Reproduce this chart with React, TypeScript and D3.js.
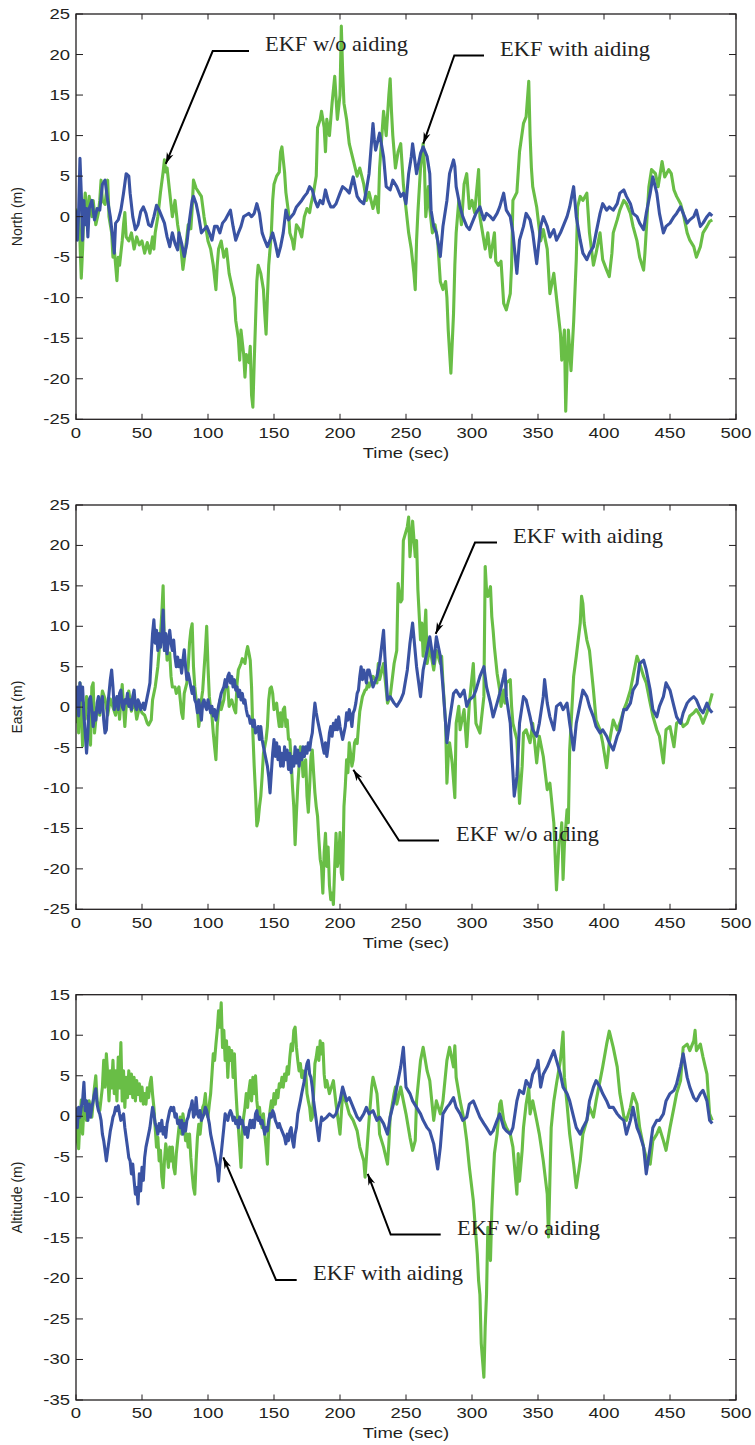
import React from "react";
import * as d3 from "d3";

type Pt = [number, number];

// ---------- Data (time sec, error m) ----------
const northNoAid: Pt[] = [[0,1],[1,-1],[2,0.5],[3,-3],[4,-7.6],[5,-4],[6,1],[7,2.9],[8,1],[9,-1],[10,2.5],[12,0],[13,2],[15,-1],[17,0.5],[18,2],[19,4.5],[20,2],[22,1.5],[24,4.5],[25,0],[27,-2],[28,-5],[29,-4],[31,-7.9],[32,-5],[33,-6],[35,-3],[36,-1],[37,0.5],[38,-2.5],[40,-3],[42,-2],[44,-4],[46,-2.5],[48,-3.5],[50,-3],[52,-4.5],[54,-3.2],[56,-4.5],[58,-2.5],[59,-4],[60,-2],[62,0],[64,3],[66,5.5],[67,7],[68,5.5],[69,6],[71,3],[73,0],[75,2],[77,-1],[79,-3],[81,-6.5],[83,-4],[85,-1],[87,-1.5],[88,1],[89,4.5],[91,3.5],[93,3],[95,2.5],[97,0],[99,-2],[100,-3],[102,-4],[104,-6],[106,-9],[107,-6],[108,-4],[110,-3],[112,-5],[114,-4],[116,-7],[118,-8.5],[120,-10],[121,-12.8],[123,-15],[124,-17.7],[125,-14],[127,-17],[128,-19.8],[129,-17],[131,-18],[132,-16],[133,-22],[134,-23.5],[135,-18],[136,-13],[137,-8],[138,-6],[140,-7],[142,-9],[143,-12],[144,-14.5],[145,-10],[146,-6],[148,-2],[149,2],[150,4],[152,5],[154,5.5],[155,8],[156,8.6],[158,5.5],[159,3],[161,0.5],[162,-2],[164,-3],[165,-4],[167,-1],[169,-1.5],[171,-2.5],[173,0],[175,1],[177,0.5],[178,1.5],[180,3],[182,5],[183,11],[185,12],[186,13],[188,11],[189,8],[190,12],[192,10],[194,14],[196,17.3],[198,12],[200,15],[201,23.5],[202,18],[203,14],[205,12],[207,9],[210,7],[213,5],[215,6],[218,4],[220,2],[222,3],[225,1],[227,2.5],[229,0.5],[230,6],[233,13],[235,10],[237,15],[238,17],[239,13],[240,10],[242,6],[244,8],[246,9],[248,4],[250,1],[252,-2],[254,-4],[256,-7],[257,-9],[258,-3],[259,0.5],[261,6],[263,9],[264,6],[265,0],[267,3.7],[268,1],[270,-2],[272,-1],[274,-3],[276,-8],[278,-9],[280,-8],[281,-10],[282,-14],[284,-19.3],[286,-12],[287,-6],[288,-2],[290,2],[292,-1],[294,4],[296,5.3],[298,1],[300,2],[302,0.5],[305,5.8],[306,0],[308,-2],[310,-4],[312,-2],[314,-5],[316,-3],[317,-2],[318,-5.5],[320,-6],[322,-5.5],[324,-10.7],[326,-11.5],[329,-9.5],[330,-6],[331,2],[334,3],[336,8],[339,11.5],[341,12.3],[343,16.7],[344,10],[345,6],[346,3.7],[349,1.2],[352,-3],[354,-1.6],[357,-4],[359,-9.5],[362,-7],[364,-10],[367,-14.4],[368,-17.7],[370,-14],[371,-24],[372,-18.5],[373,-14],[375,-19],[377,-13],[379,-5.3],[380,1.2],[382,2.5],[384,2],[387,2.9],[389,-2],[392,-6],[394,-4.5],[397,-2],[399,-5.3],[402,-6.6],[404,-7.4],[406,-4.5],[407,-2],[410,-0.4],[412,0.8],[415,2],[417,1.6],[420,0.4],[422,-1.2],[425,-3],[427,-5],[430,-6.6],[431,-4.5],[434,3.7],[436,5.8],[439,5.3],[441,3.7],[444,6.8],[446,4.9],[449,5.8],[451,5.3],[453,3.3],[455,2.5],[458,1.6],[460,0.4],[463,-2],[465,-2.9],[468,-3.7],[470,-5],[473,-3.7],[475,-2],[478,-1.2],[480,-0.6],[482,-0.4]];

const northAid: Pt[] = [[0,0.8],[1,-2.9],[2,0.5],[3,7.2],[4,2.9],[5,-2.9],[6,2],[7,-1],[8,1],[9,-2.5],[10,1],[12,2],[14,-0.4],[16,1],[18,0.8],[20,4],[22,4.5],[24,2],[26,0],[28,-2.9],[29,-4.5],[30,-0.8],[32,-0.4],[34,0.8],[36,2.9],[38,5.3],[40,5],[41,2.9],[43,0],[45,-1.6],[47,-1],[49,0.6],[51,1.2],[53,0.4],[55,-1],[57,-1.2],[59,0],[61,1.4],[63,0.8],[65,0],[67,-0.8],[69,-2.5],[71,-3.7],[73,-2],[75,-3.3],[77,-4.1],[78,-2],[80,-3.3],[82,-4.9],[84,-3.3],[86,-0.4],[88,2],[89,2.5],[91,1.6],[93,0],[95,-2],[97,-1.6],[99,-1.2],[101,-2],[103,-2.9],[105,-1.2],[107,-1.2],[109,-2],[111,-0.8],[113,-0.4],[115,0.2],[117,0.8],[119,-1.2],[121,-2.9],[123,-2],[125,-1.2],[127,0],[129,0.2],[131,0.4],[133,0],[135,0.4],[137,1.6],[139,0.4],[141,-2],[143,-2.9],[145,-3.7],[147,-2.9],[149,-2],[151,-3.3],[153,-4.9],[155,-3.7],[157,-2],[159,0.8],[161,-0.4],[163,0],[165,0.4],[167,1.2],[169,1.6],[171,2],[173,2.5],[175,2.9],[177,3.7],[179,3.3],[181,2],[183,1.2],[185,2],[187,1.6],[189,3.3],[191,2],[193,1.2],[195,1.2],[197,1.6],[200,2.9],[202,3.7],[205,3.3],[207,2.9],[210,4.9],[213,2.5],[215,2],[218,1.6],[220,3.3],[222,5.3],[225,11.5],[226,9.5],[227,8.2],[230,10.3],[233,7.4],[235,3.7],[238,3.3],[240,4.5],[243,3.7],[246,2.5],[248,2.9],[250,1.6],[252,5.3],[254,7.4],[255,9],[258,5.3],[261,7.8],[263,8.6],[266,7.4],[268,5.3],[269,0.8],[271,-1.2],[273,-2],[276,-4.9],[278,-1.2],[281,2],[283,5.3],[286,7],[287,6.2],[288,3.7],[291,1.2],[293,0],[296,-1.2],[298,-1.6],[301,-0.4],[303,0.4],[306,1.2],[309,-0.4],[311,0.4],[314,0],[316,-0.4],[319,0.4],[321,1.2],[324,2.9],[326,0.8],[329,0],[331,-2],[334,-7],[336,-2.9],[339,-1.2],[341,0.4],[344,-0.4],[346,-2],[349,-5.8],[352,-1.2],[354,0],[357,-1.2],[359,-2.5],[362,-1.6],[364,-2.9],[367,-2],[369,-1.2],[372,0],[374,1.2],[377,3.7],[379,0],[382,-2.9],[384,-4.5],[387,-5.3],[389,-4.5],[392,-3.7],[394,-2],[397,0.4],[399,1.6],[402,0.8],[404,1.2],[407,0.8],[410,1.6],[412,2.9],[415,3.3],[417,2.5],[420,1.6],[422,0.4],[425,0],[427,-0.8],[430,-1.6],[432,0.4],[435,2.9],[437,4.9],[440,2.9],[442,0.4],[445,-2],[447,-1.2],[450,-0.8],[453,0],[455,0.4],[458,1.2],[460,0.4],[463,-0.8],[465,-0.4],[468,0],[470,0.8],[473,-1.2],[475,-0.8],[478,0],[480,0.4],[482,0.1]];

const eastNoAid: Pt[] = [[0,-2],[1,0.9],[2,-3.2],[3,3],[4,-0.3],[5,-4.8],[6,0.5],[7,-1.5],[8,1.3],[10,-0.3],[11,-4.7],[12,2.5],[13,3],[14,-3.2],[16,0],[18,-1],[20,2],[22,1],[24,-1],[26,1],[28,0],[30,-1],[32,1],[33,-1.5],[35,2.8],[36,0],[37,-2.4],[38,0],[40,2],[42,-0.5],[44,1],[46,-1.5],[48,0],[50,-0.7],[52,-1],[54,-2],[55,-2.2],[57,-1.6],[58,0.9],[60,2.5],[62,5],[63,7],[64,9],[65,11.6],[66,15],[67,7],[68,9],[69,5.8],[71,6.7],[72,3.8],[73,2.5],[75,2.5],[76,1.7],[78,2.5],[79,0.9],[80,-0.7],[81,-1.4],[82,1.7],[84,3],[85,5],[86,7.9],[87,9.5],[88,10.3],[89,5],[90,2.5],[91,0.9],[92,-0.3],[93,-2.4],[94,-1.1],[95,0.9],[96,2.1],[97,4.6],[98,7],[99,10],[100,5],[101,1.3],[102,-0.3],[103,-1.1],[104,-3.2],[105,-4.9],[106,-6.5],[107,-2.4],[108,-0.3],[109,0.9],[110,-0.3],[112,0.9],[113,2.5],[115,2.5],[116,0.1],[118,0.9],[120,-0.3],[121,-0.7],[122,2.9],[123,4.6],[124,5],[125,5.4],[126,6],[127,5.8],[128,5.4],[129,6.7],[130,7.5],[131,6.7],[132,5.8],[133,2.5],[134,-3.2],[135,-7.3],[136,-10.6],[137,-14.7],[138,-14],[139,-12.3],[140,-11],[141,-8.6],[142,-5.7],[143,-4.9],[144,-4],[145,-2.4],[146,0.9],[147,2.3],[148,2.5],[149,1.7],[150,-0.3],[151,0.1],[152,0.5],[153,-1.1],[154,-2.4],[155,-0.7],[156,-2.4],[157,-0.3],[158,0],[159,-2.4],[160,-1.6],[161,-4],[162,-4],[163,-6.5],[164,-9.8],[165,-12.3],[166,-17],[167,-13.1],[168,-9.8],[169,-7.3],[170,-4.9],[171,-5.8],[172,-8.6],[173,-7.3],[174,-6.5],[175,-11],[176,-13],[177,-9.8],[178,-6.1],[179,-5.3],[180,-8.1],[181,-10.6],[182,-12.3],[183,-13.5],[184,-16.4],[185,-18.8],[186,-19.7],[187,-23],[188,-18],[189,-15.6],[190,-19.7],[191,-17.3],[192,-22],[193,-23.8],[194,-23],[195,-24.4],[196,-19.7],[197,-15.6],[198,-19.7],[199,-18.8],[200,-15.5],[201,-20.5],[202,-21.3],[203,-12.3],[204,-9.8],[205,-6.5],[206,-8.1],[207,-4.4],[208,-5.7],[209,-7.3],[210,-6.5],[211,-4.4],[212,-4],[213,-4.5],[214,-2.4],[215,-0.5],[217,1.3],[219,2.1],[220,2.2],[221,3],[222,2.5],[225,3.8],[228,3],[229,5.4],[230,3.4],[233,5.4],[236,0.5],[238,1.3],[241,5.4],[243,7],[244,15.3],[246,13],[247,13.3],[248,20.6],[251,22.3],[252,23.5],[253,18.6],[254,20.7],[255,23],[257,18.6],[258,20.6],[259,14.5],[261,8.3],[262,10.4],[263,6.3],[265,12],[266,5.4],[268,7.4],[271,4.6],[273,7],[276,5.4],[277,6.3],[278,3],[280,-2],[281,-9.4],[282,-6.1],[283,-4.4],[285,-6.9],[287,-11.2],[288,-2],[290,0.1],[291,-2.8],[294,-0.3],[296,-4.9],[298,0.5],[301,5.4],[302,1.3],[303,-2],[306,-3.2],[309,1.3],[310,17.4],[311,14.5],[312,13.7],[314,14.9],[315,11.2],[316,9.5],[317,7.4],[319,4.2],[321,2.1],[322,0.1],[324,2.1],[325,0.5],[326,3],[329,3.4],[330,0.1],[331,-2],[334,-4],[336,-11.9],[338,-7.3],[339,-3.2],[341,-2.8],[344,-4.4],[346,-2],[349,-6.9],[351,-3.6],[354,-6.1],[357,-10.2],[359,-9.4],[362,-14.3],[363,-18.4],[364,-22.6],[366,-16.5],[367,-16.3],[368,-14.3],[369,-21.3],[370,-17],[372,-12.7],[373,-14.3],[374,-5.3],[377,3.8],[379,6.3],[382,10.4],[383,13.7],[384,12.8],[385,10.4],[387,8.3],[389,7],[392,2.1],[394,-1.6],[397,-2.8],[399,-4.4],[402,-7.5],[404,-4.4],[407,-1.6],[410,-2.8],[412,-2],[415,-0.3],[417,0.5],[420,2.1],[422,3.8],[425,6.3],[427,5.4],[430,3.8],[432,3],[435,0.5],[437,-1.1],[440,-2.8],[442,-3.6],[445,-6.9],[447,-2.8],[450,-2.4],[453,-4.9],[455,-2],[458,-1.6],[460,-2.4],[463,-2],[465,-1.1],[468,-0.7],[470,-0.3],[473,-1.1],[475,-2],[478,-0.7],[480,0.5],[482,1.7]];

const eastAid: Pt[] = [[0,-0.3],[1,2.5],[2,-1.1],[3,3],[4,0.9],[5,2.5],[6,-1.1],[7,-3.2],[8,-5.7],[9,-3.2],[10,0.9],[11,1.3],[12,-0.3],[13,-2.4],[14,-0.7],[15,-1.6],[16,0.5],[17,1.3],[18,-0.7],[19,0.5],[20,1.3],[21,-1.6],[22,-3.2],[23,-2.8],[24,0.1],[25,1.7],[26,3.4],[27,4.6],[28,2.5],[29,-0.3],[30,0.5],[31,1.3],[32,-0.3],[33,1.7],[34,2.1],[35,0.1],[36,-0.3],[37,0.9],[38,0.5],[39,1.7],[40,0.1],[41,0.9],[42,-0.3],[43,1.3],[44,2.1],[45,0.1],[46,-0.3],[47,0.9],[48,0.5],[49,-0.3],[50,0.1],[51,0.5],[52,-0.3],[53,0.5],[54,1.3],[55,2.1],[56,3],[57,6.3],[58,9.1],[59,10.8],[60,7.9],[61,9.5],[62,7],[63,9.1],[64,7.4],[65,8.7],[66,12],[67,7],[68,9.1],[69,6.6],[70,8.2],[71,9.5],[72,7.9],[73,7],[74,8.3],[75,6.2],[76,5],[77,6.2],[78,5],[79,5.8],[80,4.2],[81,5.8],[82,7.1],[83,5],[84,3.4],[85,4.2],[86,3.4],[87,2.5],[88,1.7],[89,2.5],[90,0.9],[91,0.5],[92,-0.7],[93,0.9],[94,-0.3],[95,-1.6],[96,0.5],[97,0.9],[98,0.1],[99,-0.3],[100,0.9],[101,0.1],[102,-0.7],[103,0.1],[104,-1.1],[105,-0.3],[106,-1.6],[107,-0.7],[108,0.1],[109,0.9],[110,1.7],[111,2.1],[112,2.5],[113,3.4],[114,2.5],[115,3.8],[116,4.2],[117,3],[118,3.8],[119,2.5],[120,3.4],[121,2.1],[122,2.5],[123,1.3],[124,2.1],[125,0.9],[126,1.7],[127,0.5],[128,0.9],[129,-0.3],[130,-1.1],[131,-1.1],[132,-2],[133,-1.6],[134,-2.4],[135,-1.6],[136,-3.2],[137,-2.8],[138,-2.4],[139,-4],[140,-2.4],[141,-4],[142,-4.9],[143,-5.7],[144,-6.5],[145,-7.3],[146,-8.6],[147,-10.6],[148,-8.1],[149,-5.7],[150,-4],[151,-6.1],[152,-4.4],[153,-6.5],[154,-4.9],[155,-7.3],[156,-5.7],[157,-7.3],[158,-4.9],[159,-6.5],[160,-5.3],[161,-7.7],[162,-5.7],[163,-8.1],[164,-6.1],[165,-7.3],[166,-4.9],[167,-6.9],[168,-5.3],[169,-7.3],[170,-5.7],[171,-6.5],[172,-4.9],[173,-6.1],[174,-4.9],[175,-5.7],[176,-4.4],[177,-5.3],[178,-4],[179,-3.2],[180,-1.2],[181,0.5],[182,-0.7],[183,-1.6],[184,-2.4],[185,-3.2],[186,-4],[187,-4.9],[188,-5.7],[189,-4.4],[190,-6.1],[191,-4.9],[192,-3.2],[193,-2.4],[194,-3.6],[195,-2],[196,-2.8],[197,-1.6],[198,-2.8],[199,-1.2],[200,-2.4],[201,-3.2],[202,-4],[203,-3.2],[204,-2.4],[205,-0.7],[206,-1.6],[207,-0.3],[208,-1.1],[209,-2.4],[210,-0.7],[211,-0.3],[212,0.5],[213,1.7],[214,2.1],[215,3.8],[216,5],[217,3.4],[218,4.6],[219,3.8],[220,3],[221,4.6],[222,4.6],[225,2.5],[228,3.8],[230,5.4],[233,9.5],[234,6.3],[236,0.9],[238,1.3],[241,0.5],[243,0.1],[246,0.9],[248,1.7],[251,4.6],[253,7.9],[255,10.4],[258,5],[261,1.3],[263,4.6],[266,7],[268,8.7],[271,5.4],[273,8.7],[276,6.3],[278,2.5],[280,-2],[281,-4.4],[283,-1.6],[286,1.7],[288,2.1],[291,1.3],[294,2.1],[296,0.1],[298,0.9],[301,1.3],[303,2.1],[306,3.8],[309,5],[311,2.5],[314,0.5],[316,-1.2],[319,0.5],[321,1.7],[324,3.8],[325,4.6],[326,1.3],[329,-2],[330,-5.3],[331,-8.1],[332,-11],[334,-8.6],[335,-5.6],[336,-2],[339,1.3],[341,0.9],[344,-1.2],[346,-2.8],[349,-3.6],[351,-2],[354,1.3],[355,3.4],[357,0.5],[359,-1.2],[362,-2.8],[364,0.1],[367,0.5],[369,-0.3],[372,0.5],[374,-2],[377,-5.3],[379,-2],[382,0.5],[384,2.1],[387,1.3],[389,0.1],[392,-1.2],[394,-2.4],[397,-3.2],[399,-2.8],[402,-3.6],[404,-4.4],[407,-5.3],[410,-3.6],[412,-2.8],[415,-0.3],[417,-0.3],[420,0.5],[422,2.1],[425,2.9],[427,5.4],[430,5.8],[432,4.6],[435,2.1],[437,-0.3],[440,-1.2],[442,0.1],[445,1.3],[447,3],[450,2.1],[453,0.1],[455,-1.2],[458,-2],[460,-0.7],[463,0.5],[465,0.9],[468,1.3],[470,0.9],[473,-0.3],[475,-0.7],[478,0.5],[480,-0.3],[482,-0.7]];

const altNoAid: Pt[] = [[0,-0.5],[1,-3],[2,-4],[3,-0.5],[4,2],[5,-2.2],[6,1.1],[8,-0.5],[10,1.9],[12,-0.1],[14,3.6],[15,5],[16,1.9],[18,0.7],[20,3.6],[21,6.9],[22,3.6],[23,7.7],[24,5.2],[25,1.9],[26,5.6],[27,3.5],[28,6.9],[29,2.8],[30,5.6],[31,1.9],[32,7.3],[33,3.5],[34,9.1],[35,1.9],[36,5.6],[37,1.1],[38,4.8],[39,2.3],[40,5.6],[41,2.8],[42,5.2],[43,2.3],[44,4.8],[45,1.9],[46,4.4],[47,2.7],[48,4],[49,1.9],[50,3.6],[51,1.5],[52,2.8],[53,1.5],[54,3.5],[55,2.3],[56,4],[57,4.8],[58,2.7],[59,1.1],[60,-1.4],[61,-3.8],[62,-2.6],[63,-5.5],[64,-4.2],[65,-7.5],[66,-8.8],[67,-5.5],[68,-3.4],[69,-4.6],[70,-6.3],[71,-3.8],[72,-5.5],[73,-3.8],[74,-6.3],[75,-7.1],[76,-4.6],[77,-3],[78,-1.4],[79,-0.1],[80,-2.2],[81,0.3],[82,-0.9],[83,-3],[84,-2.2],[85,-3.8],[86,-2.2],[87,-5.1],[88,-7.1],[89,-8.8],[90,-9.6],[91,-5.5],[92,-2.6],[93,-1],[94,-2.2],[95,-0.5],[96,1.1],[97,1.5],[98,2.8],[99,0.3],[100,-0.1],[101,1.5],[102,2.8],[103,5.2],[104,7.7],[105,6.9],[106,8.9],[107,10.6],[108,13],[109,11],[110,14],[111,8.5],[112,10.6],[113,6.9],[114,9.3],[115,4.8],[116,8.5],[117,6.9],[118,8.1],[119,4.8],[120,7.7],[121,3.6],[122,0.7],[123,-1.4],[124,-3.8],[125,-6.3],[126,-1.4],[127,-0.1],[128,1.1],[129,2.8],[130,1.1],[131,3.2],[132,4.4],[133,1.9],[134,4.8],[135,2.8],[136,5],[137,1.9],[138,0.3],[139,1.1],[140,-0.5],[141,-1.4],[142,0.3],[143,-2.2],[144,-3.8],[145,-5.9],[146,-1.4],[147,0.7],[148,1.9],[149,1.1],[150,2.8],[151,1.5],[152,3.2],[153,2.3],[154,4],[155,3.6],[156,4.8],[157,3.6],[158,5.2],[159,4.4],[160,6.1],[161,5.2],[162,7.3],[163,8.9],[164,8.1],[165,10.6],[166,11],[167,8.5],[168,6.9],[169,5.6],[170,6.5],[171,4.8],[172,5.6],[173,4.4],[174,5.6],[175,2.8],[176,1.9],[177,1.1],[178,-0.5],[179,-0.1],[180,2.8],[181,6.5],[182,7.3],[183,8.5],[184,6.9],[185,9.3],[186,7.7],[187,9],[188,5.2],[189,3.6],[190,4.4],[192,2.8],[195,4.4],[197,1.5],[200,-2.2],[202,2.8],[205,1.5],[207,0.3],[210,-0.5],[213,-1.8],[215,-3.8],[218,-5.5],[219,-7.5],[220,-5.1],[222,-0.5],[224,3.6],[225,4.8],[228,2.8],[229,0.7],[230,-2.2],[233,-3.8],[236,-5.9],[237,-3.4],[238,-0.1],[241,2.8],[242,3.6],[243,1.5],[246,3.6],[248,1.9],[250,0.3],[253,-2.6],[255,-4.2],[257,-3],[258,1.9],[261,6.9],[263,8.5],[266,5.6],[268,4.4],[271,-0.5],[273,1.9],[276,0.3],[278,1.9],[281,6.9],[283,8.5],[286,6.1],[287,8.7],[288,4.8],[291,1.9],[294,-0.5],[296,-3],[298,-6.3],[301,-10.4],[304,-17],[305,-20.3],[306,-22],[307,-28],[309,-32.2],[310,-26],[311,-22],[312,-13.7],[314,-17.8],[315,-11.7],[316,-7.9],[317,-4.6],[319,-2.2],[321,1.5],[322,1.9],[324,-0.5],[326,-1.4],[329,-2.2],[331,-3.8],[334,-9.6],[335,-4.6],[336,-8],[338,-4.2],[339,-1.4],[341,1.5],[343,3.5],[344,0.3],[346,1.9],[349,-0.5],[351,-2.2],[354,-5.5],[357,-9.6],[358,-14.9],[359,-7.9],[360,-1.4],[362,1.9],[364,4],[367,6.9],[369,10.4],[370,4.8],[372,1.5],[374,-2.2],[377,-5.9],[379,-8.8],[382,-5.5],[384,-2.2],[387,-0.5],[389,1.1],[392,-0.1],[394,1.9],[397,4.4],[399,6.1],[402,8.9],[404,10.5],[407,8.5],[410,6.1],[412,2.8],[415,0],[417,-0.5],[420,1.1],[422,2.8],[425,1.5],[427,-1.4],[430,-3.8],[432,-5.1],[435,-5.9],[437,-3],[440,-2.2],[442,-1.4],[445,-3],[447,-4.2],[450,-1.4],[453,1.1],[455,2.8],[458,4.4],[460,8.5],[463,8.9],[465,8.1],[468,9.3],[469,10.6],[470,8.1],[473,8.9],[475,7.3],[478,5.2],[479,2.7],[480,0.3],[482,-0.5]];

const altAid: Pt[] = [[0,1.1],[1,-1.4],[2,1.1],[3,-0.1],[4,1.1],[5,1.9],[6,4.2],[7,0.7],[8,1.9],[9,-0.5],[10,1.5],[11,-0.1],[12,1.1],[13,1.9],[14,2.8],[15,3.4],[16,1.5],[17,0.7],[18,0.3],[19,-0.5],[20,-2.2],[21,-3],[22,-4.2],[23,-5.5],[24,-4.2],[25,-3],[26,-1.8],[27,-1],[28,-0.1],[29,0.3],[30,1.1],[31,0.7],[32,1.3],[33,0.3],[34,-0.5],[35,-0.1],[36,0.3],[37,-1.4],[38,-2.6],[39,-3.8],[40,-5.1],[41,-5.5],[42,-7.1],[43,-5.9],[44,-7.9],[45,-9.6],[46,-8.8],[47,-10.8],[48,-7.1],[49,-9.2],[50,-6.3],[51,-7.9],[52,-5.1],[53,-3.8],[54,-3],[55,-2.2],[56,-1.4],[57,-0.1],[58,1.1],[59,0.3],[60,-0.9],[61,-1.4],[62,-2.2],[63,-0.9],[64,-1.8],[65,-0.5],[66,-2.2],[67,-1.4],[68,-2.6],[69,-0.9],[70,-0.1],[71,0.7],[72,1.1],[73,0.7],[74,1.1],[75,-0.1],[76,0.3],[77,-0.9],[78,-0.5],[79,-1.4],[80,-0.5],[81,-2.2],[82,-0.9],[83,-1.8],[84,-0.5],[85,-0.1],[86,0.7],[87,1.1],[88,1.9],[89,-0.1],[90,0.3],[91,2.3],[92,0.3],[93,-0.1],[94,0.7],[95,-0.5],[96,-0.1],[97,0.3],[98,1.1],[99,0.7],[100,-0.1],[101,-0.9],[102,-2.2],[103,-3],[104,-3.8],[105,-4.6],[106,-5.5],[107,-6.3],[108,-8],[109,-5.9],[110,-4.6],[111,-3],[112,-1.4],[113,0.3],[114,-0.1],[115,-0.5],[116,0.3],[117,0.7],[118,0.3],[119,-0.5],[120,-0.1],[121,-0.9],[122,-0.5],[123,-1.4],[124,-0.1],[125,-0.9],[126,-0.5],[127,-1.4],[128,-2.2],[129,-1.4],[130,-2.6],[131,-1.4],[132,-0.5],[133,-1.4],[134,-0.5],[135,-1.4],[136,0.3],[137,0.7],[138,-0.5],[139,-0.1],[140,-0.9],[141,-0.5],[142,-1.4],[143,-2.2],[144,-1.4],[145,-1.8],[146,-0.5],[147,0.3],[148,-0.1],[149,0.7],[150,0.3],[151,-0.5],[152,-0.9],[153,-1.4],[154,-0.9],[155,-1.4],[156,-1.8],[157,-2.2],[158,-2.6],[159,-3.4],[160,-2.2],[161,-3],[162,-1.8],[163,-1.4],[164,-3],[165,-3.8],[166,-2.2],[167,-1.4],[168,0.3],[169,1.1],[170,1.9],[171,2.8],[172,3.6],[173,4.4],[174,5.6],[175,6.5],[176,6.9],[177,5.2],[178,4.8],[179,3.6],[180,1.9],[181,0.7],[182,-0.5],[183,-1.8],[184,-3],[185,-1.4],[186,-0.1],[187,-0.5],[190,-0.1],[192,0.3],[195,-0.1],[197,0.3],[200,1.9],[202,3.6],[205,1.9],[207,2.3],[210,1.1],[213,-0.1],[215,-0.5],[218,0.3],[220,1.1],[222,0.3],[225,0.7],[228,-0.5],[230,-0.1],[233,-0.9],[236,-2.2],[238,-0.1],[241,1.9],[243,3.6],[246,6.1],[248,8.5],[250,3.6],[253,2.8],[255,1.9],[258,1.1],[261,0.3],[263,-0.5],[266,-1.4],[268,-1.8],[271,-3.4],[273,-5.5],[274,-6.5],[276,-3.8],[278,0.3],[281,1.1],[283,1.5],[286,2.3],[288,1.1],[291,0.3],[293,-0.5],[296,-0.1],[298,1.5],[301,1.9],[303,1.1],[306,-0.1],[309,-0.9],[311,-1.4],[314,-2.2],[316,-1.8],[319,-0.5],[321,0.3],[324,-1.4],[326,-1.8],[329,-2.2],[331,-1.4],[334,1.9],[336,3.2],[339,2.8],[341,4.4],[344,3.6],[346,5.2],[349,6.1],[350,6.9],[352,3.6],[354,5.2],[357,6.1],[359,6.9],[362,8.1],[364,6.9],[367,5.2],[369,3.6],[372,2.8],[374,1.9],[377,-0.1],[379,-1.4],[382,-2.2],[384,-1.4],[387,-0.5],[389,1.9],[392,3.6],[394,4.4],[397,3.6],[399,2.8],[402,1.9],[404,1.1],[407,1.1],[410,0.3],[412,-0.1],[415,-0.5],[417,-2.2],[420,-0.5],[422,1.1],[425,-1.4],[427,-2.2],[430,-3.8],[432,-7.1],[435,-3.8],[437,-1.4],[440,-0.5],[442,-0.5],[445,0.3],[447,1.9],[450,2.8],[453,3.2],[455,4],[458,6.1],[460,7.7],[463,4.8],[465,3.6],[468,2.3],[470,1.9],[473,2.8],[475,3.2],[478,1.9],[480,-0.5],[482,-0.9]];

const timeTicks = [0, 50, 100, 150, 200, 250, 300, 350, 400, 450, 500];
const neTicks = [-25, -20, -15, -10, -5, 0, 5, 10, 15, 20, 25];
const altTicks = [-35, -30, -25, -20, -15, -10, -5, 0, 5, 10, 15];
const labelNoAid = "EKF w/o aiding";
const labelAid = "EKF with aiding";

// ---------- Layout / style ----------
const GREEN = "#69be46";
const BLUE = "#3a53a3";
const AXIS = "#231f20";
const SANS = "'Liberation Sans', Arial, Helvetica, sans-serif";
const SERIF = "'Liberation Serif', 'Times New Roman', serif";
const SX = 1.32; // horizontal stretch of axis text
const LW = 3.1;

type Note = { text: string; tx: number; ty: number; w: number; elbowX: number; startX: number; tip: [number, number] };
type Panel = {
  top: number; bottom: number; domain: [number, number]; ticks: number[]; ylabel: string;
  green: Pt[]; blue: Pt[]; notes: Note[];
};

const panels: Panel[] = [
  {
    top: 14, bottom: 419.3, domain: [-25, 25], ticks: neTicks, ylabel: "North (m)",
    green: northNoAid, blue: northAid,
    notes: [
      { text: labelNoAid, tx: 265, ty: 51, w: 143, startX: 249, elbowX: 212.7, tip: [68, 6.5] },
      { text: labelAid, tx: 500, ty: 55.5, w: 150, startX: 484, elbowX: 454.3, tip: [263.1, 9] },
    ],
  },
  {
    top: 505, bottom: 909.3, domain: [-25, 25], ticks: neTicks, ylabel: "East (m)",
    green: eastNoAid, blue: eastAid,
    notes: [
      { text: labelAid, tx: 513, ty: 542.5, w: 150, startX: 497, elbowX: 475, tip: [272.5, 9.05] },
      { text: labelNoAid, tx: 456, ty: 840.5, w: 143, startX: 439, elbowX: 399, tip: [210.1, -7.74] },
    ],
  },
  {
    top: 994.7, bottom: 1400, domain: [-35, 15], ticks: altTicks, ylabel: "Altitude (m)",
    green: altNoAid, blue: altAid,
    notes: [
      { text: labelAid, tx: 313, ty: 1280, w: 150, startX: 296.7, elbowX: 276, tip: [111.6, -5.06] },
      { text: labelNoAid, tx: 457, ty: 1234.5, w: 143, startX: 440.7, elbowX: 390.7, tip: [221, -7.1] },
    ],
  },
];

const x = d3.scaleLinear().domain([0, 500]).range([76, 736]);

function Arrow({ sx, sy, tx, ty }: { sx: number; sy: number; tx: number; ty: number }) {
  const ang = Math.atan2(ty - sy, tx - sx);
  const L = 12, half = 0.3, back = 8;
  const p1 = [tx - L * Math.cos(ang - half), ty - L * Math.sin(ang - half)];
  const p2 = [tx - L * Math.cos(ang + half), ty - L * Math.sin(ang + half)];
  const pb = [tx - back * Math.cos(ang), ty - back * Math.sin(ang)];
  return (
    <path d={`M${tx},${ty}L${p1[0]},${p1[1]}L${pb[0]},${pb[1]}L${p2[0]},${p2[1]}Z`} fill="#000" />
  );
}

function PanelView({ p, idx }: { p: Panel; idx: number }) {
  const y = d3.scaleLinear().domain(p.domain).range([p.bottom, p.top]);
  const line = d3.line<Pt>().x((d) => x(d[0])).y((d) => y(d[1]));
  const L = x(0), R = x(500);
  const clipId = `clip${idx}`;
  const midY = (p.top + p.bottom) / 2;
  return (
    <g>
      <defs>
        <clipPath id={clipId}>
          <rect x={L} y={p.top} width={R - L} height={p.bottom - p.top} />
        </clipPath>
      </defs>
      <g clipPath={`url(#${clipId})`}>
        <path d={line(p.green) || ""} fill="none" stroke={GREEN} strokeWidth={LW} strokeLinejoin="round" />
        <path d={line(p.blue) || ""} fill="none" stroke={BLUE} strokeWidth={LW} strokeLinejoin="round" />
      </g>
      {/* box */}
      <rect x={L} y={p.top} width={R - L} height={p.bottom - p.top} fill="none" stroke={AXIS} strokeWidth={1.3} />
      {/* x ticks */}
      {timeTicks.map((t) => (
        <g key={`xt${t}`}>
          <line x1={x(t)} x2={x(t)} y1={p.bottom} y2={p.bottom - 5.5} stroke={AXIS} strokeWidth={1} />
          <line x1={x(t)} x2={x(t)} y1={p.top} y2={p.top + 5.5} stroke={AXIS} strokeWidth={1} />
          <text transform={`translate(${x(t)},${p.bottom + 18.4}) scale(${SX},1)`} textAnchor="middle"
            fontFamily={SANS} fontSize={14} fill={AXIS}>{t}</text>
        </g>
      ))}
      {/* y ticks */}
      {p.ticks.map((v) => (
        <g key={`yt${v}`}>
          <line x1={L} x2={L + 7} y1={y(v)} y2={y(v)} stroke={AXIS} strokeWidth={1} />
          <line x1={R} x2={R - 7} y1={y(v)} y2={y(v)} stroke={AXIS} strokeWidth={1} />
          <text transform={`translate(70,${y(v) + 5}) scale(${SX},1)`} textAnchor="end"
            fontFamily={SANS} fontSize={14} fill={AXIS}>{v}</text>
        </g>
      ))}
      <text transform={`translate(${(L + R) / 2},${p.bottom + 38.4}) scale(${SX},1)`} textAnchor="middle"
        fontFamily={SANS} fontSize={14} fill={AXIS}>Time (sec)</text>
      <text transform={`translate(21.5,${midY}) rotate(-90)`} textAnchor="middle"
        fontFamily={SANS} fontSize={14} fill={AXIS}>{p.ylabel}</text>
      {/* annotations */}
      {p.notes.map((n, i) => {
        const tx = x(n.tip[0]), ty = y(n.tip[1]);
        return (
          <g key={`n${i}`}>
            <path d={`M${n.startX},${n.ty}L${n.elbowX},${n.ty}L${tx},${ty}`} fill="none" stroke="#000" strokeWidth={2} />
            <Arrow sx={n.elbowX} sy={n.ty} tx={tx} ty={ty} />
            <text x={n.tx} y={n.ty} fontFamily={SERIF} fontSize={21} fill="#222"
              textLength={n.w} lengthAdjust="spacingAndGlyphs">{n.text}</text>
          </g>
        );
      })}
    </g>
  );
}

export default function App() {
  return (
    <svg width={755} height={1445} viewBox="0 0 755 1445"
      style={{ position: "absolute", left: 0, top: 0, display: "block", background: "#fff" }}>
      <rect x={0} y={0} width={755} height={1445} fill="#fff" />
      {panels.map((p, i) => <PanelView key={i} p={p} idx={i} />)}
    </svg>
  );
}
